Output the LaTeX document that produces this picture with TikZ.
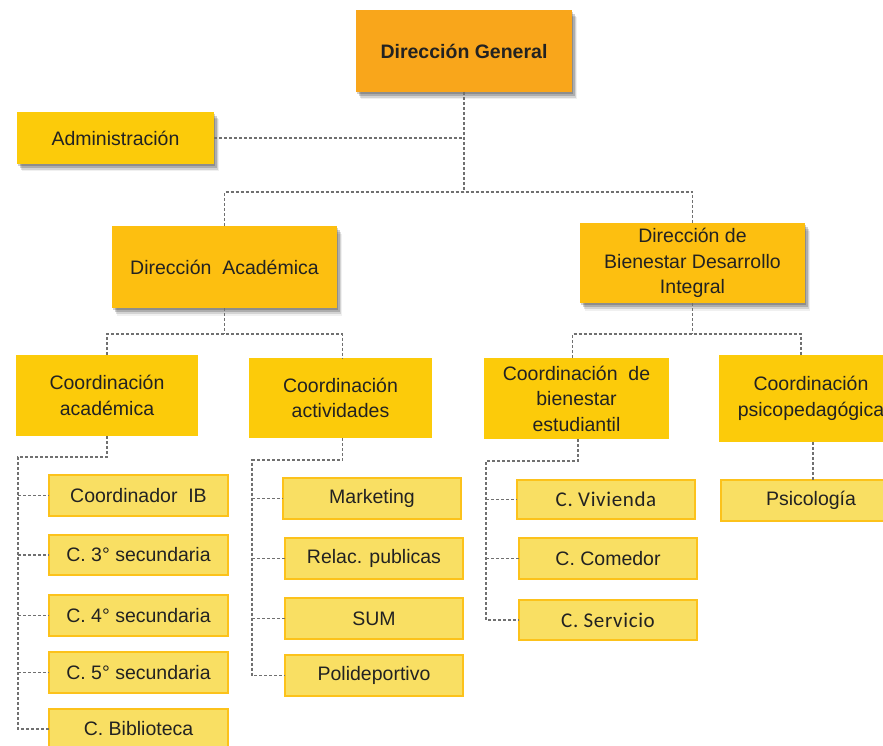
\documentclass[tikz,border=0pt]{standalone}
\usepackage{fontspec}
\setmainfont{Liberation Sans}
\newfontfamily\calibfont{Carlito}[LetterSpace=3]
\usetikzlibrary{shadows}
\definecolor{orangebox}{HTML}{F9A61B}
\definecolor{dirbox}{HTML}{FDBF10}
\definecolor{coordbox}{HTML}{FCCB0A}
\definecolor{leafbox}{HTML}{F9DF63}
\definecolor{leafline}{HTML}{FCC21B}
\definecolor{conncol}{HTML}{707070}
\definecolor{txt}{HTML}{222222}
\tikzset{
  base/.style={inner sep=0pt, outer sep=0pt, align=center, text=txt,
    font=\fontsize{19.5}{25.5}\selectfont},
  shad/.style={
    drop shadow={shadow xshift=1pt, shadow yshift=-2pt, fill=black, opacity=0.18},
    drop shadow={shadow xshift=2.5pt, shadow yshift=-4pt, fill=black, opacity=0.18},
    drop shadow={shadow xshift=4pt, shadow yshift=-6pt, fill=black, opacity=0.12},
    drop shadow={shadow xshift=5pt, shadow yshift=-7.5pt, fill=black, opacity=0.06}},
  topbox/.style={base, shad, fill=orangebox,
    font=\fontsize{19.5}{25.5}\selectfont\bfseries},
  dirb/.style={base, shad, fill=dirbox},
  adminb/.style={base, shad, fill=coordbox},
  coordb/.style={base, fill=coordbox},
  leafb/.style={base, fill=leafbox, draw=leafline, line width=1.5pt},
  conn/.style={draw=conncol, line width=1.1pt, dash pattern=on 3pt off 2pt}
}
\newcommand\obox[7]{%
  \pgfmathsetmacro\bw{#4-#2}%
  \pgfmathsetmacro\bh{#5-#3}%
  \pgfmathsetmacro\bx{(#2+#4)/2}%
  \pgfmathsetmacro\by{(#3+#5)/2}%
  \node[#6, minimum width=\bw pt, minimum height=\bh pt] (#1) at (\bx,\by) {#7};%
}
\begin{document}
\begin{tikzpicture}[x=1pt,y=-1pt]
\useasboundingbox (0,0) rectangle (883,746);
\coordinate (hub) at (464,192);
\coordinate (ja) at (224.5,334);
\coordinate (jb) at (692.5,334);
\coordinate (bl) at (18,457);
\coordinate (bm) at (252,460);
\coordinate (br) at (486,461);
% boxes
\obox{dg}{356}{10}{572}{92}{topbox}{Dirección General}
\obox{admin}{17}{112}{214}{164}{adminb}{Administración}
\obox{da}{112}{226}{337}{308}{dirb}{Dirección~ Académica}
\obox{db}{580}{223}{805}{303}{dirb}{Dirección de\\Bienestar Desarrollo\\Integral}
\obox{ca}{16}{355}{198}{436}{coordb}{Coordinación\\académica}
\obox{cact}{249}{358}{432}{438}{coordb}{Coordinación\\actividades}
\obox{cb}{484}{358}{669}{439}{coordb}{Coordinación~ de\\bienestar\\estudiantil}
\obox{cp}{719}{355}{903}{442}{coordb}{Coordinación\\psicopedagógica}
\obox{ib}{49}{475}{228}{516}{leafb}{Coordinador~ IB}
\obox{s3}{49}{535}{228}{575}{leafb}{C. 3° secundaria}
\obox{s4}{49}{595}{228}{636}{leafb}{C. 4° secundaria}
\obox{s5}{49}{652}{228}{693}{leafb}{C. 5° secundaria}
\obox{bib}{49}{709}{228}{749}{leafb}{C. Biblioteca}
\obox{mk}{283}{478}{461}{519}{leafb}{Marketing}
\obox{rp}{285}{538}{463}{579}{leafb}{Relac. publicas}
\obox{sum}{285}{598}{463}{639}{leafb}{SUM}
\obox{poli}{285}{655}{463}{696}{leafb}{Polideportivo}
\obox{viv}{517}{480}{695}{519}{leafb}{\calibfont\fontsize{21}{24}\selectfont C. Vivienda}
\obox{com}{519}{538}{697}{579}{leafb}{C. Comedor}
\obox{serv}{519}{600}{697}{640}{leafb}{\calibfont\fontsize{21}{24}\selectfont C. Servicio}
\obox{psi}{721}{480}{901}{521}{leafb}{Psicología}
% connectors
\draw[conn] (dg.south) -- (hub);
\draw[conn] (admin.east) -- (admin.east -| dg.south);
\draw[conn] (da.north) |- (hub) -| (db.north);
\draw[conn] (da.south) -- (ja);
\draw[conn] (ca.north) |- (ja) -| ([xshift=2pt]cact.north);
\draw[conn] (db.south) -- (jb);
\draw[conn] ([xshift=-4pt]cb.north) |- (jb) -| ([xshift=-10pt]cp.north);
\draw[conn] ([xshift=2pt]cp.south) -- ([xshift=2pt]psi.north);
\draw[conn] (ca.south) |- (bl) -- (bl |- bib.west) -- (bib.west);
\foreach \n in {ib,s3,s4,s5} \draw[conn] (bl |- \n.west) -- (\n.west);
\draw[conn] ([xshift=2pt]cact.south) |- (bm) -- (bm |- poli.west) -- (poli.west);
\foreach \n in {mk,rp,sum} \draw[conn] (bm |- \n.west) -- (\n.west);
\draw[conn] ([xshift=1.5pt]cb.south) |- (br) -- (br |- serv.west) -- (serv.west);
\foreach \n in {viv,com} \draw[conn] (br |- \n.west) -- (\n.west);
\end{tikzpicture}
\end{document}
